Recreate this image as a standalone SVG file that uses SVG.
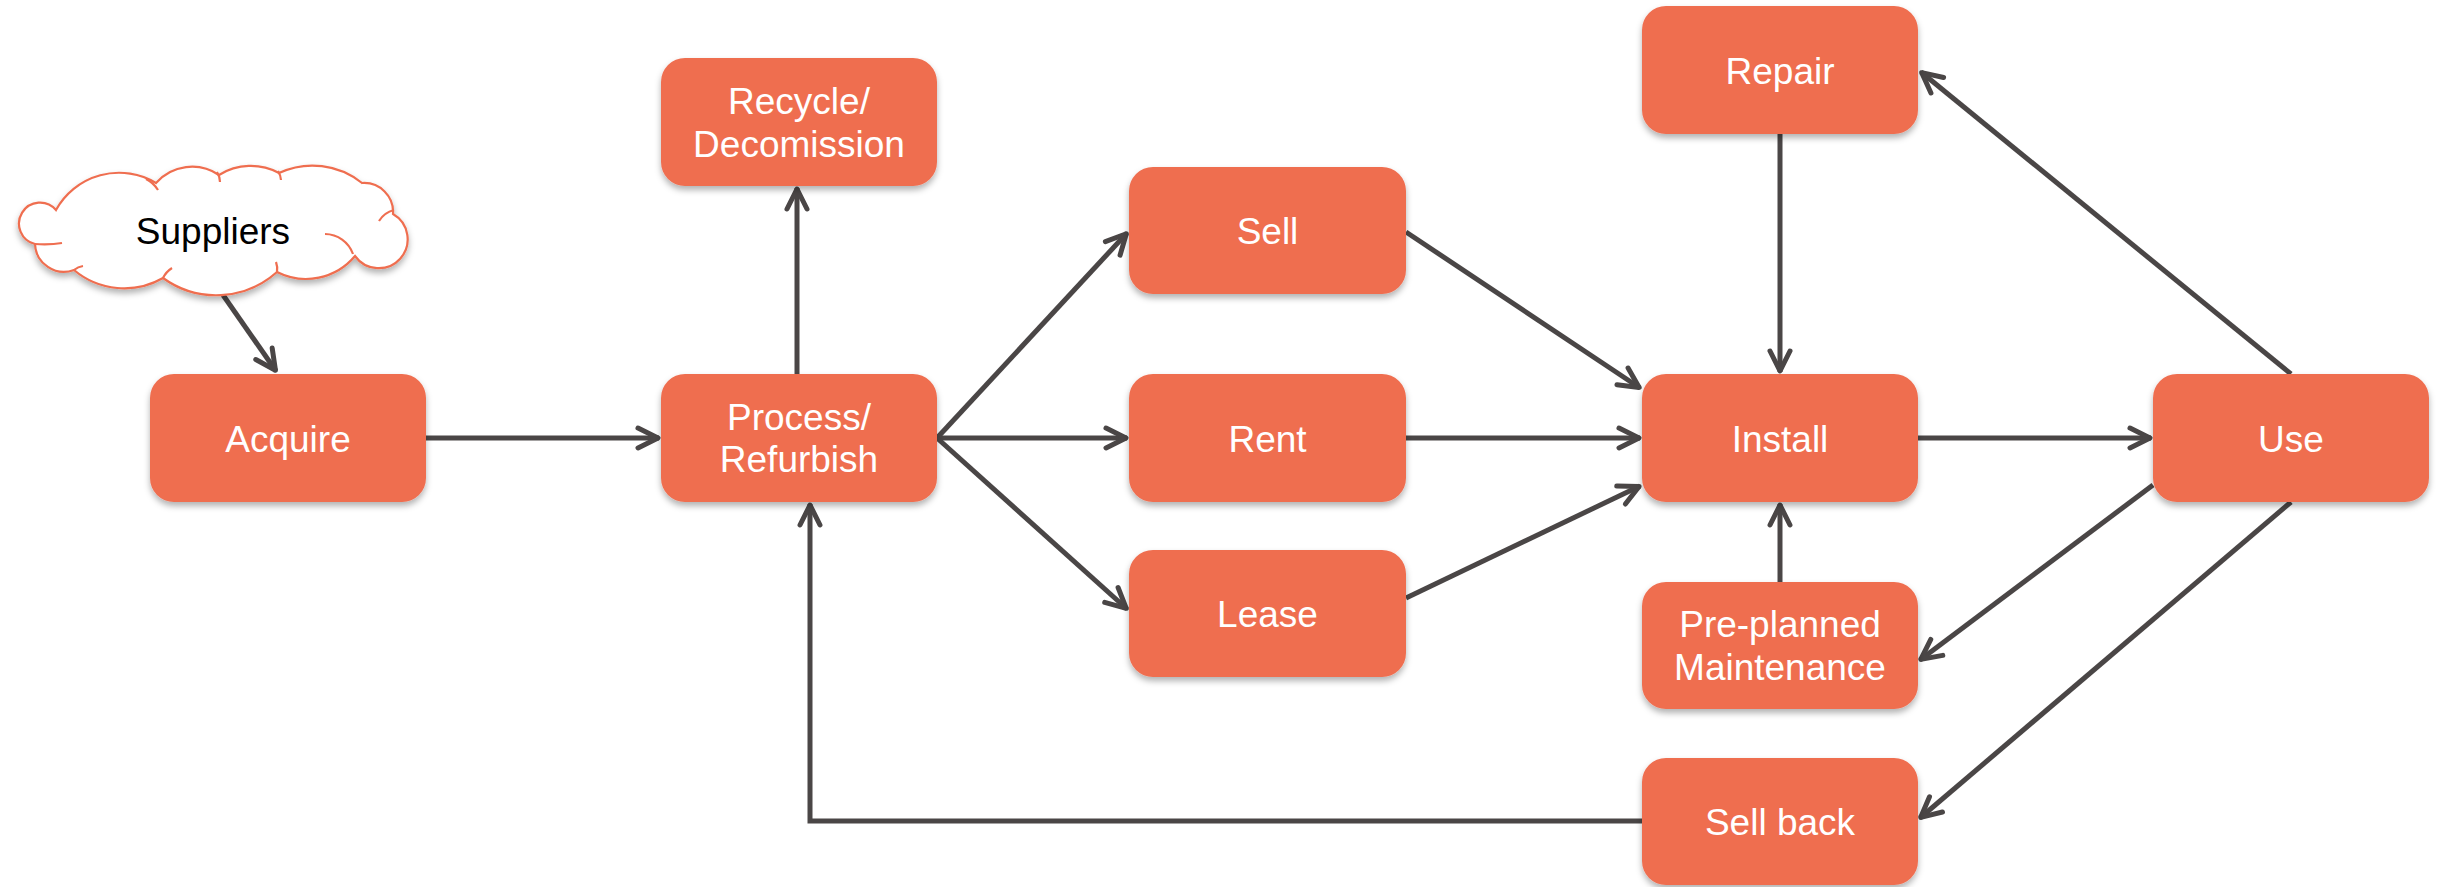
<svg xmlns="http://www.w3.org/2000/svg" width="2445" height="887" viewBox="0 0 2445 887">
<style>
.box{fill:#EF6E50;filter:url(#sh)}
.lbl{font-family:"Liberation Sans",Arial,sans-serif;font-size:37px;fill:#ffffff;text-anchor:middle}
.dark{fill:#000000}
.con{fill:none;stroke:#4A4646;stroke-width:5;marker-end:url(#arr)}
.cloud{fill:#ffffff;stroke:#EF6E50;stroke-width:2.2}
.curl{fill:none;stroke:#EF6E50;stroke-width:2.2}
</style>
<defs>
<filter id="sh" x="-10%" y="-10%" width="120%" height="130%">
<feDropShadow dx="0" dy="4" stdDeviation="3" flood-color="#000" flood-opacity="0.3"/>
</filter>
<marker id="arr" viewBox="-26 -14 30 28" refX="0" refY="0" markerWidth="30" markerHeight="28" markerUnits="userSpaceOnUse" orient="auto">
<path d="M-21,-10 L-1,0 L-21,10" fill="none" stroke="#4A4646" stroke-width="5" stroke-linecap="round" stroke-linejoin="round"/>
</marker>
</defs>
<rect width="2445" height="887" fill="#ffffff"/>
<g id="connectors">
<path class="con" d="M223,295 L276,371"/>
<path class="con" d="M426,438 L659,438"/>
<path class="con" d="M797,374 L797,188"/>
<path class="con" d="M937,438 L1127,233"/>
<path class="con" d="M937,438 L1127,438"/>
<path class="con" d="M937,438 L1127,609"/>
<path class="con" d="M1406,232 L1640,388"/>
<path class="con" d="M1406,438 L1640,438"/>
<path class="con" d="M1406,598 L1640,486"/>
<path class="con" d="M1780,134 L1780,372"/>
<path class="con" d="M1780,582 L1780,504"/>
<path class="con" d="M1918,438 L2151,438"/>
<path class="con" d="M2291,374 L1921,72"/>
<path class="con" d="M2153,485 L1920,660"/>
<path class="con" d="M2291,502 L1920,818"/>
<path class="con" d="M1642,821 L810,821 L810,504"/>
</g>
<g id="suppliers">
<g filter="url(#sh)">
<path class="cloud" d="M56,210 A72,72 0 0 1 156,183 A48,48 0 0 1 219,175 A60,60 0 0 1 279,173 A79,79 0 0 1 362,183 A29,29 0 0 1 393,214 A29,29 0 1 1 355,256 A64,64 0 0 1 277,272 A91,91 0 0 1 163,278 A78,78 0 0 1 74,270 A29,29 0 0 1 35,244 A21,21 0 1 1 56,210 Z"/>
</g>
<path class="curl" d="M146,179 A30,30 0 0 1 158,190"/>
<path class="curl" d="M217,172 A20,20 0 0 1 220,182"/>
<path class="curl" d="M278,171 A20,20 0 0 1 281,180"/>
<path class="curl" d="M379,221 A25,25 0 0 1 394,210"/>
<path class="curl" d="M325,234 A30,30 0 0 1 353,254"/>
<path class="curl" d="M277,272 A20,20 0 0 0 276,262"/>
<path class="curl" d="M163,278 A25,25 0 0 1 172,268"/>
<path class="curl" d="M74,270 A20,20 0 0 1 83,266"/>
<path class="curl" d="M35,244 Q50,245 62,243"/>
<text class="lbl dark" x="213" y="244">Suppliers</text>
</g>
<g id="acquire">
<rect class="box" x="150" y="374" width="276" height="128" rx="24"/>
<text class="lbl" x="288" y="452">Acquire</text>
</g>
<g id="process">
<rect class="box" x="661" y="374" width="276" height="128" rx="24"/>
<text class="lbl" x="799" y="430">Process/</text>
<text class="lbl" x="799" y="472">Refurbish</text>
</g>
<g id="recycle">
<rect class="box" x="661" y="58" width="276" height="128" rx="24"/>
<text class="lbl" x="799" y="114">Recycle/</text>
<text class="lbl" x="799" y="157">Decomission</text>
</g>
<g id="sell">
<rect class="box" x="1129" y="167" width="277" height="127" rx="24"/>
<text class="lbl" x="1267.5" y="244">Sell</text>
</g>
<g id="rent">
<rect class="box" x="1129" y="374" width="277" height="128" rx="24"/>
<text class="lbl" x="1267.5" y="452">Rent</text>
</g>
<g id="lease">
<rect class="box" x="1129" y="550" width="277" height="127" rx="24"/>
<text class="lbl" x="1267.5" y="627">Lease</text>
</g>
<g id="repair">
<rect class="box" x="1642" y="6" width="276" height="128" rx="24"/>
<text class="lbl" x="1780" y="84">Repair</text>
</g>
<g id="install">
<rect class="box" x="1642" y="374" width="276" height="128" rx="24"/>
<text class="lbl" x="1780" y="452">Install</text>
</g>
<g id="preplanned">
<rect class="box" x="1642" y="582" width="276" height="127" rx="24"/>
<text class="lbl" x="1780" y="637">Pre-planned</text>
<text class="lbl" x="1780" y="680">Maintenance</text>
</g>
<g id="sellback">
<rect class="box" x="1642" y="758" width="276" height="127" rx="24"/>
<text class="lbl" x="1780" y="835">Sell back</text>
</g>
<g id="use">
<rect class="box" x="2153" y="374" width="276" height="128" rx="24"/>
<text class="lbl" x="2291" y="452">Use</text>
</g>
</svg>
